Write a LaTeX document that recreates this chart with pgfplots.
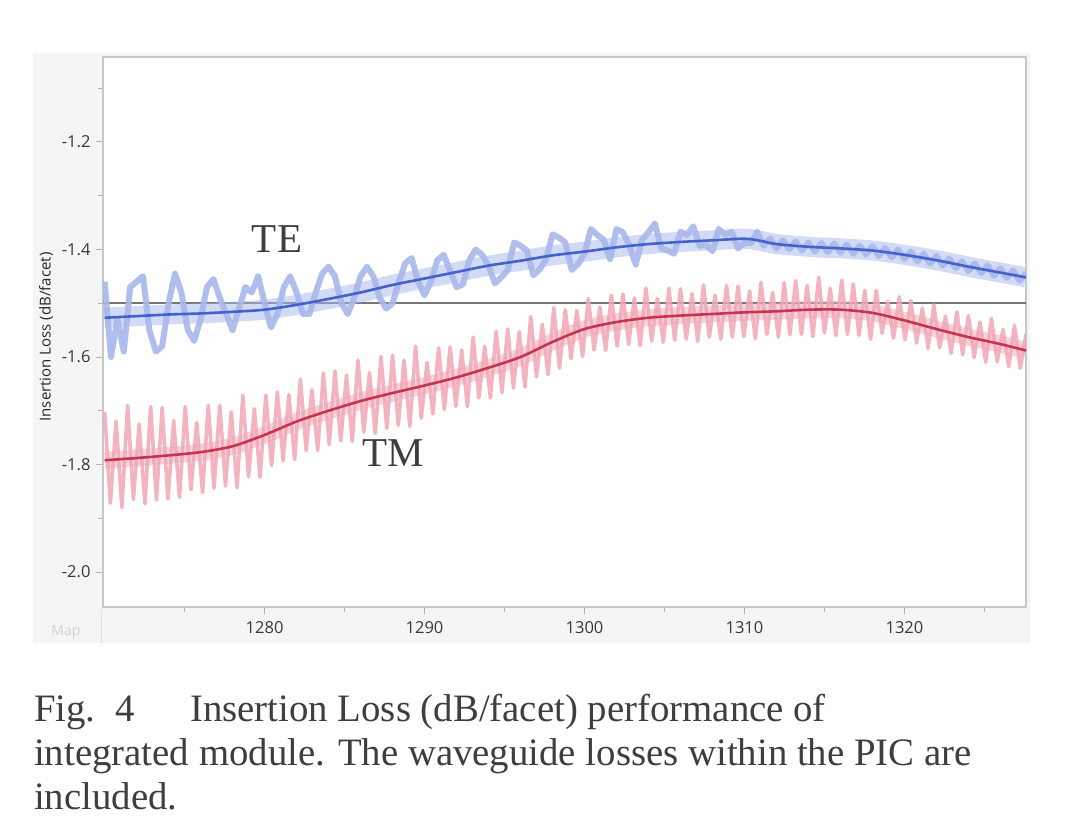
\documentclass[border=0pt]{standalone}
\usepackage{pgfplots}
\pgfplotsset{compat=1.18}
\usepackage{fontspec}
\setmainfont{Liberation Serif}
\newfontfamily\uifont{Open Sans}

\definecolor{panel}{RGB}{245,245,246}
\definecolor{frame}{RGB}{200,200,204}
\definecolor{refline}{RGB}{118,118,118}
\definecolor{teband}{RGB}{168,183,236}
\definecolor{teline}{RGB}{66,98,204}
\definecolor{tmband}{RGB}{241,168,181}
\definecolor{tmline}{RGB}{198,52,80}
\definecolor{captxt}{RGB}{62,62,66}

% TE: measured trace (0.4 nm steps)
\pgfplotstableread{
x y
1270.0 -1.460
1270.4 -1.600
1270.8 -1.530
1271.2 -1.590
1271.6 -1.470
1272.0 -1.460
1272.4 -1.450
1272.8 -1.550
1273.2 -1.590
1273.6 -1.580
1274.0 -1.500
1274.4 -1.445
1274.8 -1.480
1275.2 -1.550
1275.6 -1.570
1276.0 -1.530
1276.4 -1.470
1276.8 -1.455
1277.2 -1.490
1277.6 -1.520
1278.0 -1.550
1278.4 -1.510
1278.8 -1.470
1279.2 -1.480
1279.6 -1.450
1280.0 -1.500
1280.4 -1.545
1280.8 -1.520
1281.2 -1.470
1281.6 -1.450
1282.0 -1.480
1282.4 -1.520
1282.8 -1.520
1283.2 -1.480
1283.6 -1.445
1284.0 -1.432
1284.4 -1.450
1284.8 -1.500
1285.2 -1.520
1285.6 -1.490
1286.0 -1.450
1286.4 -1.432
1286.8 -1.450
1287.2 -1.490
1287.6 -1.510
1288.0 -1.500
1288.4 -1.460
1288.8 -1.425
1289.2 -1.416
1289.6 -1.460
1290.0 -1.485
1290.4 -1.460
1290.8 -1.420
1291.2 -1.410
1291.6 -1.440
1292.0 -1.470
1292.4 -1.465
1292.8 -1.420
1293.2 -1.400
1293.6 -1.410
1294.0 -1.430
1294.4 -1.463
1294.8 -1.452
1295.2 -1.438
1295.6 -1.387
1296.0 -1.393
1296.4 -1.402
1296.8 -1.448
1297.2 -1.437
1297.6 -1.418
1298.0 -1.372
1298.4 -1.378
1298.8 -1.387
1299.2 -1.438
1299.6 -1.427
1300.0 -1.408
1300.4 -1.362
1300.8 -1.373
1301.2 -1.382
1301.6 -1.418
1302.0 -1.362
1302.4 -1.368
1302.8 -1.392
1303.2 -1.428
1303.6 -1.382
1304.0 -1.368
1304.4 -1.352
1304.8 -1.398
1305.2 -1.402
1305.6 -1.408
1306.0 -1.367
1306.4 -1.373
1306.8 -1.357
1307.2 -1.393
1307.6 -1.392
1308.0 -1.403
1308.4 -1.362
1308.8 -1.373
1309.2 -1.367
1309.6 -1.398
1310.0 -1.387
1310.4 -1.388
1310.8 -1.367
1311.2 -1.393
1311.6 -1.380
1312.0 -1.398
1312.4 -1.383
1312.8 -1.400
1313.2 -1.385
1313.6 -1.402
1314.0 -1.387
1314.4 -1.404
1314.8 -1.388
1315.2 -1.405
1315.6 -1.389
1316.0 -1.406
1316.4 -1.391
1316.8 -1.408
1317.2 -1.393
1317.6 -1.409
1318.0 -1.394
1318.4 -1.412
1318.8 -1.397
1319.2 -1.415
1319.6 -1.400
1320.0 -1.418
1320.4 -1.404
1320.8 -1.422
1321.2 -1.408
1321.6 -1.426
1322.0 -1.412
1322.4 -1.430
1322.8 -1.417
1323.2 -1.435
1323.6 -1.422
1324.0 -1.440
1324.4 -1.426
1324.8 -1.444
1325.2 -1.430
1325.6 -1.449
1326.0 -1.435
1326.4 -1.453
1326.8 -1.439
1327.2 -1.458
1327.6 -1.444
}\teraw

% TM: measured trace (0.36 nm steps)
\pgfplotstableread{
x y
1270.00 -1.702
1270.36 -1.872
1270.72 -1.719
1271.08 -1.880
1271.44 -1.690
1271.80 -1.865
1272.16 -1.725
1272.52 -1.873
1272.88 -1.692
1273.24 -1.866
1273.60 -1.694
1273.96 -1.864
1274.32 -1.718
1274.68 -1.861
1275.04 -1.692
1275.40 -1.847
1275.76 -1.722
1276.12 -1.852
1276.48 -1.690
1276.84 -1.844
1277.20 -1.690
1277.56 -1.840
1277.92 -1.702
1278.28 -1.843
1278.64 -1.671
1279.00 -1.823
1279.36 -1.696
1279.72 -1.824
1280.08 -1.671
1280.44 -1.802
1280.80 -1.665
1281.16 -1.793
1281.52 -1.670
1281.88 -1.791
1282.24 -1.641
1282.60 -1.774
1282.96 -1.661
1283.32 -1.774
1283.68 -1.630
1284.04 -1.763
1284.40 -1.626
1284.76 -1.756
1285.12 -1.634
1285.48 -1.757
1285.84 -1.606
1286.20 -1.740
1286.56 -1.629
1286.92 -1.742
1287.28 -1.599
1287.64 -1.733
1288.00 -1.597
1288.36 -1.727
1288.72 -1.606
1289.08 -1.729
1289.44 -1.580
1289.80 -1.714
1290.16 -1.610
1290.52 -1.706
1290.88 -1.583
1291.24 -1.698
1291.60 -1.581
1291.96 -1.692
1292.32 -1.587
1292.68 -1.692
1293.04 -1.563
1293.40 -1.676
1293.76 -1.580
1294.12 -1.676
1294.48 -1.552
1294.84 -1.666
1295.20 -1.548
1295.56 -1.658
1295.92 -1.553
1296.28 -1.656
1296.64 -1.525
1297.00 -1.637
1297.36 -1.539
1297.72 -1.633
1298.08 -1.508
1298.44 -1.621
1298.80 -1.512
1299.16 -1.603
1299.52 -1.514
1299.88 -1.599
1300.24 -1.491
1300.60 -1.587
1300.96 -1.507
1301.32 -1.588
1301.68 -1.485
1302.04 -1.580
1302.40 -1.483
1302.76 -1.577
1303.12 -1.490
1303.48 -1.579
1303.84 -1.472
1304.20 -1.570
1304.56 -1.491
1304.92 -1.573
1305.28 -1.472
1305.64 -1.569
1306.00 -1.473
1306.36 -1.567
1306.72 -1.482
1307.08 -1.571
1307.44 -1.466
1307.80 -1.563
1308.16 -1.485
1308.52 -1.567
1308.88 -1.467
1309.24 -1.563
1309.60 -1.468
1309.96 -1.562
1310.32 -1.477
1310.68 -1.566
1311.04 -1.461
1311.40 -1.558
1311.76 -1.480
1312.12 -1.563
1312.48 -1.462
1312.84 -1.559
1313.20 -1.458
1313.56 -1.558
1313.92 -1.467
1314.28 -1.562
1314.64 -1.452
1315.00 -1.555
1315.36 -1.472
1315.72 -1.560
1316.08 -1.457
1316.44 -1.558
1316.80 -1.464
1317.16 -1.560
1317.52 -1.476
1317.88 -1.567
1318.24 -1.476
1318.60 -1.556
1318.96 -1.497
1319.32 -1.565
1319.68 -1.488
1320.04 -1.568
1320.40 -1.495
1320.76 -1.574
1321.12 -1.509
1321.48 -1.584
1321.84 -1.503
1322.20 -1.583
1322.56 -1.524
1322.92 -1.593
1323.28 -1.516
1323.64 -1.596
1324.00 -1.523
1324.36 -1.601
1324.72 -1.535
1325.08 -1.610
1325.44 -1.528
1325.80 -1.609
1326.16 -1.549
1326.52 -1.618
1326.88 -1.541
1327.24 -1.621
1327.60 -1.558
}\tmraw

% smoothed curves
\pgfplotstableread{
x y
1270 -1.527
1272 -1.524
1274 -1.521
1276 -1.519
1278 -1.516
1280 -1.512
1282 -1.503
1284 -1.492
1286 -1.480
1288 -1.466
1290 -1.454
1292 -1.442
1294 -1.430
1296 -1.421
1298 -1.411
1300 -1.404
1302 -1.396
1304 -1.390
1306 -1.386
1308 -1.383
1310 -1.380
1311 -1.384
1312 -1.390
1314 -1.395
1316 -1.398
1318 -1.402
1320 -1.410
1322 -1.420
1324 -1.432
1326 -1.443
1327.6 -1.452
}\tefit

\pgfplotstableread{
x y
1270 -1.792
1272 -1.788
1274 -1.783
1276 -1.777
1278 -1.766
1280 -1.745
1282 -1.720
1284 -1.700
1286 -1.682
1288 -1.667
1290 -1.653
1292 -1.638
1294 -1.620
1296 -1.600
1298 -1.572
1300 -1.548
1302 -1.535
1304 -1.527
1306 -1.523
1308 -1.520
1310 -1.517
1312 -1.515
1314 -1.512
1316 -1.512
1318 -1.518
1320 -1.532
1322 -1.548
1324 -1.563
1326 -1.576
1327.6 -1.588
}\tmfit

\begin{document}
\begin{tikzpicture}[x=1pt,y=1pt]
  \fill[white] (0,0) rectangle (1080,837);
  % window panel around the plot
  \fill[panel] (33,194) rectangle (1030,784);
  \draw[black!12, line width=0.8pt] (101,194) -- (101,228);
  \node[font=\uifont\fontsize{14}{14}\selectfont, text=black!18] at (66,205) {Map};

  \begin{axis}[
    at={(103pt,230pt)}, anchor=south west,
    scale only axis, width=923pt, height=550pt,
    xmin=1269.9, xmax=1327.6, ymin=-2.065, ymax=-1.042,
    axis background/.style={fill=white},
    axis line style={draw=frame, line width=1.2pt},
    xtick={1280,1290,1300,1310,1320},
    xticklabels={1280,1290,1300,1310,1320},
    minor xtick={1275,1285,1295,1305,1315,1325},
    ytick={-2,-1.8,-1.6,-1.4,-1.2},
    yticklabels={-2.0,-1.8,-1.6,-1.4,-1.2},
    minor ytick={-1.9,-1.7,-1.5,-1.3,-1.1},
    tick align=outside, tick pos=left,
    major tick length=7pt, minor tick length=5pt,
    every tick/.style={draw=black!30, line width=0.9pt},
    tick label style={font=\uifont\fontsize{16.5}{17}\selectfont, text=black!78},
    xticklabel style={yshift=-4pt},
    yticklabel style={xshift=-2pt},
  ]
    \addplot[refline, line width=2pt, forget plot] coordinates {(1269.9,-1.5) (1327.6,-1.5)};
    % dense core of each fringe band
    \addplot[teband, line width=20pt, opacity=0.5, smooth] table {\tefit};
    \addplot[tmband, line width=17pt, opacity=0.5, smooth] table {\tmfit};
    % measured traces
    \addplot[teband, line width=6pt, line join=round, opacity=0.9] table {\teraw};
    \addplot[tmband, line width=3.6pt, line join=round, opacity=0.85] table {\tmraw};
    % fitted curves
    \addplot[teline, line width=2.6pt, smooth] table {\tefit};
    \addplot[tmline, line width=2.6pt, smooth] table {\tmfit};
  \end{axis}

  \node[rotate=90, font=\uifont\fontsize{15}{15}\selectfont, text=black!85] at (46,500) {Insertion Loss (dB/facet)};

  \node[anchor=base, font=\fontsize{41}{41}\selectfont, text=captxt, inner sep=0pt] at (277,584) {TE};
  \node[anchor=base, font=\fontsize{41}{41}\selectfont, text=captxt, inner sep=0pt] at (393,370) {TM};

  \begin{scope}[every node/.style={anchor=base west, inner sep=0pt, text=captxt, font=\fontsize{38.8}{44}\selectfont}]
    \node at (34,115) {Fig.~~4};
    \node at (190,115) {Insertion Loss (dB/facet) performance of};
    \node at (34,71) {integrated module. The waveguide losses within the PIC are};
    \node at (34,27) {included.};
  \end{scope}
\end{tikzpicture}
\end{document}
